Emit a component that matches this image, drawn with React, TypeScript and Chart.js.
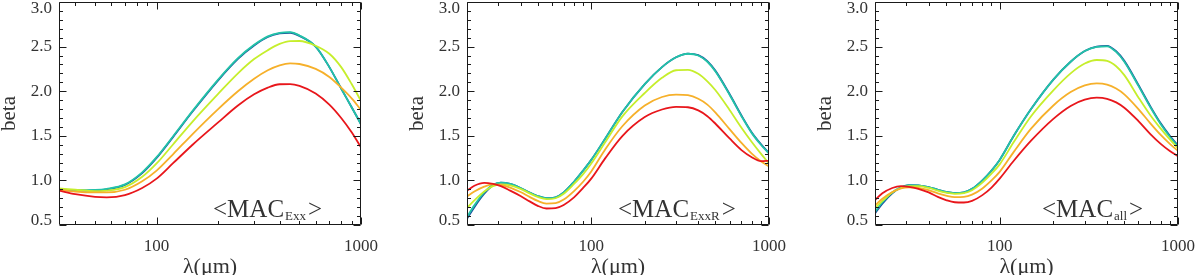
import React, { useEffect, useRef } from "react";
import { Chart, registerables } from "chart.js";

Chart.register(...registerables);

// ---------- Panel 1 : <MAC_Exx> ----------
const LAMBDA_1 = [33.3, 40, 50, 57, 70, 85, 100, 120, 150, 200, 250, 300, 350, 400, 450, 500, 600, 700, 800, 900, 1000];
const RED_1 = [0.885, 0.845, 0.815, 0.81, 0.835, 0.915, 1.02, 1.19, 1.4, 1.65, 1.84, 1.965, 2.04, 2.078, 2.08, 2.06, 1.975, 1.85, 1.7, 1.54, 1.37];
const ORANGE_1 = [0.895, 0.875, 0.865, 0.865, 0.895, 0.99, 1.11, 1.29, 1.52, 1.8, 2.0, 2.14, 2.235, 2.29, 2.312, 2.305, 2.25, 2.16, 2.04, 1.92, 1.79];
const YELLOW_1 = [0.91, 0.895, 0.88, 0.885, 0.925, 1.04, 1.19, 1.4, 1.66, 1.97, 2.2, 2.36, 2.46, 2.53, 2.562, 2.563, 2.51, 2.42, 2.27, 2.08, 1.89];
const CYAN_1 = [0.9, 0.89, 0.893, 0.905, 0.955, 1.09, 1.26, 1.49, 1.78, 2.13, 2.37, 2.52, 2.615, 2.655, 2.663, 2.625, 2.5, 2.27, 2.03, 1.82, 1.63];
const BLUE_1 = [0.895, 0.885, 0.888, 0.9, 0.95, 1.082, 1.252, 1.482, 1.772, 2.122, 2.362, 2.512, 2.607, 2.647, 2.655, 2.62, 2.5, 2.27, 2.03, 1.82, 1.63];

// ---------- Panels 2 and 3 share the wavelength grid ----------
const LAMBDA_23 = [20, 22, 25, 28, 31, 35, 40, 45, 50, 56, 63, 70, 80, 90, 100, 120, 150, 200, 250, 300, 350, 400, 450, 500, 600, 700, 800, 900, 1000];

// Panel 2 : <MAC_ExxR>
const RED_2 = [0.885, 0.94, 0.972, 0.96, 0.935, 0.885, 0.825, 0.765, 0.715, 0.685, 0.69, 0.725, 0.81, 0.915, 1.02, 1.25, 1.5, 1.71, 1.795, 1.825, 1.82, 1.785, 1.72, 1.635, 1.47, 1.34, 1.26, 1.215, 1.22];
const ORANGE_2 = [0.82, 0.875, 0.93, 0.955, 0.95, 0.92, 0.87, 0.815, 0.77, 0.74, 0.745, 0.785, 0.88, 0.985, 1.1, 1.35, 1.61, 1.84, 1.935, 1.962, 1.955, 1.915, 1.85, 1.76, 1.575, 1.42, 1.3, 1.215, 1.155];
const YELLOW_2 = [0.69, 0.775, 0.875, 0.935, 0.955, 0.945, 0.905, 0.855, 0.815, 0.79, 0.8, 0.85, 0.96, 1.07, 1.19, 1.43, 1.72, 1.98, 2.15, 2.235, 2.24, 2.195, 2.11, 2.01, 1.79, 1.59, 1.43, 1.3, 1.19];
const CYAN_2 = [0.59, 0.72, 0.865, 0.95, 0.975, 0.96, 0.915, 0.865, 0.825, 0.8, 0.81, 0.865, 0.985, 1.11, 1.23, 1.47, 1.77, 2.08, 2.27, 2.38, 2.42, 2.4, 2.33, 2.22, 1.96, 1.72, 1.53, 1.4, 1.3];
const BLUE_2 = [0.57, 0.7, 0.85, 0.945, 0.975, 0.96, 0.915, 0.865, 0.825, 0.8, 0.81, 0.865, 0.985, 1.11, 1.23, 1.47, 1.77, 2.08, 2.27, 2.38, 2.422, 2.405, 2.337, 2.228, 1.968, 1.728, 1.538, 1.408, 1.308];

// Panel 3 : <MAC_all>
const RED_3 = [0.78, 0.855, 0.915, 0.935, 0.928, 0.905, 0.865, 0.815, 0.78, 0.755, 0.752, 0.77, 0.835, 0.92, 1.02, 1.22, 1.445, 1.69, 1.835, 1.905, 1.927, 1.915, 1.875, 1.815, 1.665, 1.52, 1.41, 1.33, 1.27];
const ORANGE_3 = [0.72, 0.795, 0.87, 0.91, 0.922, 0.915, 0.89, 0.855, 0.83, 0.812, 0.815, 0.84, 0.91, 1.0, 1.095, 1.32, 1.58, 1.84, 1.99, 2.065, 2.088, 2.075, 2.03, 1.965, 1.8, 1.64, 1.51, 1.41, 1.33];
const YELLOW_3 = [0.69, 0.77, 0.865, 0.915, 0.935, 0.935, 0.915, 0.885, 0.862, 0.85, 0.857, 0.89, 0.975, 1.075, 1.18, 1.43, 1.72, 2.01, 2.2, 2.31, 2.35, 2.34, 2.28, 2.18, 1.93, 1.73, 1.58, 1.46, 1.36];
const CYAN_3 = [0.65, 0.755, 0.865, 0.925, 0.948, 0.945, 0.925, 0.895, 0.87, 0.857, 0.865, 0.905, 1.0, 1.11, 1.23, 1.5, 1.8, 2.13, 2.33, 2.45, 2.498, 2.503, 2.44, 2.33, 2.06, 1.82, 1.63, 1.49, 1.38];
const BLUE_3 = [0.63, 0.74, 0.855, 0.92, 0.948, 0.945, 0.925, 0.895, 0.87, 0.857, 0.865, 0.905, 1.0, 1.11, 1.23, 1.5, 1.8, 2.13, 2.33, 2.45, 2.5, 2.508, 2.448, 2.34, 2.07, 1.83, 1.64, 1.5, 1.39];

// ---------- axes ----------
const X_TICKS = [20, 30, 40, 50, 60, 70, 80, 90, 100, 200, 300, 400, 500, 600, 700, 800, 900, 1000];
const X_LABELED = [100, 1000];
const Y_LABELS = [0.5, 1.0, 1.5, 2.0, 2.5, 3.0];
const Y_MIN = 0.5;
const Y_MAX = 3.0;
const X_TITLE = "λ(μm)";
const Y_TITLE = "beta";
const TAG_MAIN = "MAC";
const TAG_SUBS = ["Exx", "ExxR", "all"];

const SERIES_COLORS = ["#e8161b", "#f6b02a", "#c6ee2c", "#22c3a8", "#1b4f9c"];

const PANELS = [
  { lambda: LAMBDA_1, series: [RED_1, ORANGE_1, YELLOW_1, CYAN_1, BLUE_1], xMin: 33.3, sub: TAG_SUBS[0], padLeft: 0, padRight: 39, tagX: 213, canvasLeft: 0 },
  { lambda: LAMBDA_23, series: [RED_2, ORANGE_2, YELLOW_2, CYAN_2, BLUE_2], xMin: 20, sub: TAG_SUBS[1], padLeft: 8, padRight: 31, tagX: 218, canvasLeft: 400 },
  { lambda: LAMBDA_23, series: [RED_3, ORANGE_3, YELLOW_3, CYAN_3, BLUE_3], xMin: 20, sub: TAG_SUBS[2], padLeft: 16, padRight: 22, tagX: 242, canvasLeft: 800 },
];

const FONT = '"Liberation Serif", "DejaVu Serif", serif';
const TEXT = "#333333";

function makeFramePlugin(sub: string, tagX: number) {
  return {
    id: "idlFrame",
    afterDatasetsDraw(chart: any) {
      const { ctx, chartArea: a, scales } = chart;
      const xs = scales.x;
      const ys = scales.y;
      ctx.save();
      ctx.strokeStyle = "#1a1a1a";
      ctx.lineWidth = 1;
      const L = Math.round(a.left) + 0.5;
      const R = Math.round(a.right) - 0.5;
      const T = Math.round(a.top) + 0.5;
      const B = Math.round(a.bottom) - 0.5;
      ctx.beginPath();
      ctx.rect(L, T, R - L, B - T);
      const seg = (x1: number, y1: number, x2: number, y2: number) => {
        ctx.moveTo(x1, y1);
        ctx.lineTo(x2, y2);
      };
      for (const v of X_TICKS) {
        if (v < xs.min - 1e-9 || v > xs.max + 1e-9) continue;
        const px = Math.round(xs.getPixelForValue(v)) + 0.5;
        const len = X_LABELED.includes(v) ? 7 : 3.5;
        seg(px, B, px, B - len);
        seg(px, T, px, T + len);
      }
      for (let k = 0; k <= Math.round((Y_MAX - Y_MIN) * 10); k++) {
        const v = Y_MIN + k * 0.1;
        const py = Math.round(ys.getPixelForValue(v)) + 0.5;
        const len = k % 5 === 0 ? 7 : 3.5;
        seg(L, py, L + len, py);
        seg(R, py, R - len, py);
      }
      ctx.stroke();

      // y tick labels (IDL keeps the end labels inside the box height)
      ctx.fillStyle = TEXT;
      ctx.font = `17px ${FONT}`;
      ctx.textAlign = "right";
      ctx.textBaseline = "middle";
      for (const v of Y_LABELS) {
        let py = ys.getPixelForValue(v);
        py = Math.min(Math.max(py, a.top + 7), a.bottom - 4);
        ctx.fillText(v.toFixed(1), a.left - 7, py);
      }

      // <MAC_sub> tag
      ctx.textAlign = "left";
      ctx.textBaseline = "alphabetic";
      let x = tagX;
      ctx.font = `25px ${FONT}`;
      const head = "<" + TAG_MAIN;
      ctx.fillText(head, x, 217);
      x += ctx.measureText(head).width + 1;
      ctx.font = `13px ${FONT}`;
      ctx.fillText(sub, x, 220);
      x += ctx.measureText(sub).width + 2;
      ctx.font = `25px ${FONT}`;
      ctx.fillText(">", x, 217);
      ctx.restore();
    },
  };
}

function Panel({ cfg }: { cfg: (typeof PANELS)[number] }) {
  const ref = useRef<HTMLCanvasElement>(null);
  useEffect(() => {
    const canvas = ref.current!;
    const datasets = cfg.series.map((vals, si) => ({
      label: String(si),
      data: cfg.lambda.map((l, i) => ({ x: l, y: vals[i] })),
      borderColor: SERIES_COLORS[si],
      backgroundColor: SERIES_COLORS[si],
      borderWidth: 1.8,
      pointRadius: 0,
      cubicInterpolationMode: "monotone" as const,
      fill: false,
    }));
    const chart = new Chart(canvas, {
      type: "line",
      data: { datasets },
      options: {
        animation: false,
        responsive: false,
        devicePixelRatio: 1,
        layout: { padding: { left: cfg.padLeft, right: cfg.padRight, top: 2, bottom: 0 } },
        plugins: { legend: { display: false }, tooltip: { enabled: false } },
        scales: {
          x: {
            type: "logarithmic",
            min: cfg.xMin,
            max: 1000,
            grid: { display: false, drawTicks: false },
            border: { display: false },
            afterBuildTicks: (scale: any) => {
              scale.ticks = X_TICKS.filter((v) => v >= cfg.xMin && v <= 1000).map((v) => ({ value: v, major: X_LABELED.includes(v) }));
            },
            afterFit: (scale: any) => {
              scale.height = 50;
              scale.paddingLeft = 0;
              scale.paddingRight = 0;
            },
            ticks: {
              autoSkip: false,
              maxRotation: 0,
              padding: 11,
              color: TEXT,
              font: { family: FONT, size: 17 },
              callback: (v: any) => (X_LABELED.includes(Number(v)) ? String(v) : ""),
            },
            title: {
              display: true,
              text: X_TITLE,
              color: TEXT,
              font: { family: FONT, size: 22, lineHeight: 0.75 },
              padding: { top: 0, bottom: 0 },
            },
          },
          y: {
            type: "linear",
            min: Y_MIN,
            max: Y_MAX,
            grid: { display: false, drawTicks: false },
            border: { display: false },
            ticks: { display: false, stepSize: 0.5 },
            afterFit: (scale: any) => {
              scale.width = 59;
              scale.paddingTop = 0;
              scale.paddingBottom = 0;
            },
            title: {
              display: true,
              text: Y_TITLE,
              color: TEXT,
              font: { family: FONT, size: 21, lineHeight: 0.9 },
              padding: { top: 0, bottom: 0 },
            },
          },
        },
      },
      plugins: [makeFramePlugin(cfg.sub, cfg.tagX)],
    });
    return () => chart.destroy();
  }, [cfg]);
  return (
    <canvas
      ref={ref}
      width={400}
      height={275}
      style={{ position: "absolute", left: cfg.canvasLeft, top: 0, width: 400, height: 275 }}
    />
  );
}

export default function App() {
  return (
    <div style={{ position: "absolute", left: 0, top: 0, width: 1200, height: 275, background: "#fff", overflow: "hidden" }}>
      {PANELS.map((p, i) => (
        <Panel key={i} cfg={p} />
      ))}
    </div>
  );
}
